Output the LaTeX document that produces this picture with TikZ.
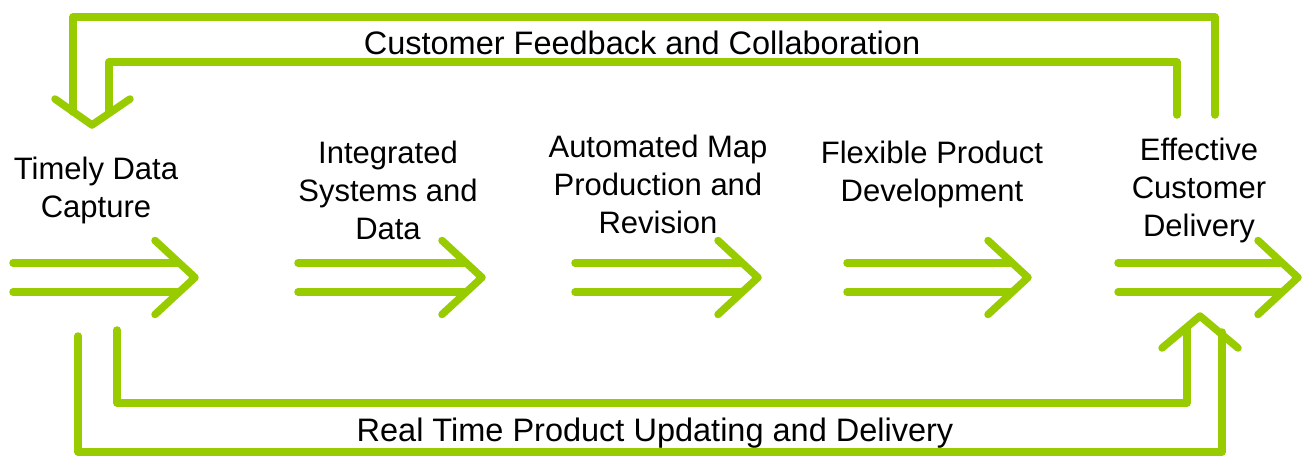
\documentclass[tikz,border=0pt]{standalone}
\usepackage{fontspec}
\setmainfont{Liberation Sans}
\definecolor{leaf}{RGB}{153,204,0}
\begin{document}
\begin{tikzpicture}[x=1pt,y=-1pt,
  flow/.style={draw=leaf,line width=7.5pt,line cap=round,line join=round},
  lbl/.style={align=center,inner sep=0pt,font=\fontsize{31}{38}\selectfont},
  looplbl/.style={inner sep=0pt,font=\fontsize{32.5}{38}\selectfont}]
\useasboundingbox (0,0) rectangle (1315,475);
% five double arrows
\foreach \i/\s/\t in {1/13/195,2/298/482,3/575/758,4/847/1028,5/1118/1298}{
  \coordinate (s\i u) at (\s,263);
  \coordinate (e\i u) at ({\t-18},263);
  \coordinate (s\i d) at (\s,292);
  \coordinate (e\i d) at ({\t-18},292);
  \coordinate (t\i) at (\t,277.5);
  \coordinate (a\i u) at ({\t-40},240.5);
  \coordinate (a\i d) at ({\t-40},314.5);
  \draw[flow] (s\i u) -- (e\i u);
  \draw[flow] (s\i d) -- (e\i d);
  \draw[flow] (a\i u) -- (t\i) -- (a\i d);
}
% top feedback loop
\coordinate (fo1) at (1215,115);
\coordinate (fo2) at (1215,17);
\coordinate (fo3) at (73,17);
\coordinate (fo4) at (73,112);
\coordinate (fi1) at (1177,115);
\coordinate (fi2) at (1177,62);
\coordinate (fi3) at (109,62);
\coordinate (fi4) at (109,112);
\coordinate (ftip) at (92,125);
\coordinate (fal) at (55,99);
\coordinate (far) at (130,99);
\draw[flow] (fo1) -- (fo2) -- (fo3) -- (fo4);
\draw[flow] (fi1) -- (fi2) -- (fi3) -- (fi4);
\draw[flow] (fal) -- (ftip) -- (far);
% bottom loop
\coordinate (bo1) at (78,336);
\coordinate (bo2) at (78,452);
\coordinate (bo3) at (1222,452);
\coordinate (bo4) at (1222,332);
\coordinate (bi1) at (117,330);
\coordinate (bi2) at (117,403);
\coordinate (bi3) at (1187,403);
\coordinate (bi4) at (1187,328);
\coordinate (btip) at (1200,316);
\coordinate (bal) at (1162,348);
\coordinate (bar) at (1238,348);
\draw[flow] (bo1) -- (bo2) -- (bo3) -- (bo4);
\draw[flow] (bi1) -- (bi2) -- (bi3) -- (bi4);
\draw[flow] (bal) -- (btip) -- (bar);
% labels
\node[lbl] (l1) at (96,190.5) {Timely Data\\Capture};
\node[lbl] (l2) at (388,190.7) {Integrated\\Systems and\\Data};
\node[lbl] (l3) at (658,184.7) {Automated Map\\Production and\\Revision};
\node[lbl] (l4) at (932,174) {Flexible Product\\Development};
\node[lbl] (l5) at (1199,190) {Effective\\Customer\\Delivery};
\node[looplbl] (fb) at (642,43) {Customer Feedback and Collaboration};
\node[looplbl] (rt) at (655,433) {Real Time Product Updating and Delivery};
\end{tikzpicture}
\end{document}
